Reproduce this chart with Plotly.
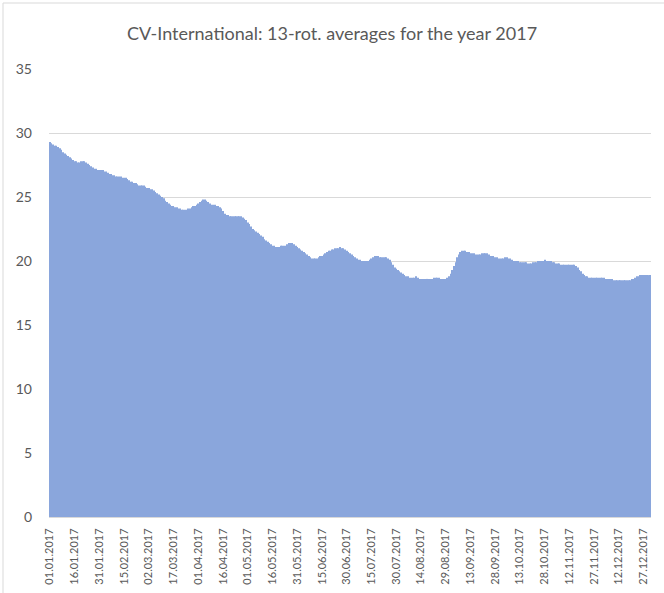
import pandas as pd
import plotly.graph_objects as go

# daily 13-rotation averages, 01.01.2017 - 31.12.2017 (15 days per row)
averages = [
    29.3, 29.2, 29.1, 29.0, 29.0, 28.9, 28.8, 28.7, 28.5, 28.4, 28.3, 28.2, 28.1, 28.0, 27.9,
    27.8, 27.8, 27.7, 27.7, 27.8, 27.8, 27.8, 27.7, 27.6, 27.5, 27.4, 27.3, 27.2, 27.2, 27.1,
    27.1, 27.1, 27.1, 27.0, 27.0, 26.9, 26.8, 26.8, 26.7, 26.7, 26.6, 26.6, 26.6, 26.6, 26.5,
    26.5, 26.5, 26.4, 26.3, 26.2, 26.2, 26.1, 26.1, 26.0, 25.9, 25.9, 25.9, 25.9, 25.8, 25.7,
    25.7, 25.6, 25.6, 25.5, 25.4, 25.3, 25.2, 25.1, 25.0, 24.9, 24.7, 24.6, 24.5, 24.4, 24.3,
    24.3, 24.2, 24.2, 24.1, 24.1, 24.0, 24.0, 24.0, 24.0, 24.1, 24.1, 24.2, 24.3, 24.3, 24.4,
    24.5, 24.6, 24.7, 24.8, 24.8, 24.7, 24.6, 24.5, 24.4, 24.4, 24.4, 24.3, 24.3, 24.2, 24.1,
    23.9, 23.7, 23.6, 23.6, 23.5, 23.5, 23.5, 23.5, 23.5, 23.5, 23.5, 23.5, 23.4, 23.3, 23.2,
    23.0, 22.9, 22.7, 22.5, 22.4, 22.3, 22.2, 22.1, 22.0, 21.9, 21.7, 21.6, 21.5, 21.4, 21.3,
    21.2, 21.2, 21.1, 21.1, 21.1, 21.2, 21.2, 21.2, 21.2, 21.3, 21.4, 21.4, 21.4, 21.3, 21.2,
    21.1, 21.0, 20.9, 20.8, 20.7, 20.6, 20.5, 20.4, 20.3, 20.2, 20.2, 20.2, 20.2, 20.3, 20.4,
    20.4, 20.5, 20.6, 20.7, 20.8, 20.8, 20.9, 20.9, 21.0, 21.0, 21.0, 21.1, 21.0, 21.0, 20.9,
    20.8, 20.7, 20.6, 20.5, 20.4, 20.3, 20.2, 20.1, 20.1, 20.0, 20.0, 20.0, 20.0, 20.0, 20.1,
    20.2, 20.3, 20.4, 20.4, 20.4, 20.3, 20.3, 20.3, 20.3, 20.3, 20.2, 20.1, 19.9, 19.7, 19.5,
    19.4, 19.3, 19.2, 19.1, 19.0, 18.9, 18.8, 18.8, 18.7, 18.7, 18.7, 18.7, 18.8, 18.7, 18.6,
    18.6, 18.6, 18.6, 18.6, 18.6, 18.6, 18.6, 18.6, 18.7, 18.7, 18.7, 18.7, 18.6, 18.6, 18.6,
    18.6, 18.7, 18.8, 19.0, 19.3, 19.6, 19.9, 20.3, 20.5, 20.7, 20.8, 20.8, 20.8, 20.7, 20.7,
    20.6, 20.6, 20.6, 20.5, 20.5, 20.5, 20.5, 20.6, 20.6, 20.6, 20.6, 20.5, 20.4, 20.4, 20.4,
    20.3, 20.3, 20.2, 20.2, 20.2, 20.2, 20.3, 20.3, 20.2, 20.2, 20.1, 20.0, 20.0, 20.0, 20.0,
    19.9, 19.9, 19.9, 19.9, 19.9, 19.8, 19.8, 19.8, 19.9, 19.9, 19.9, 20.0, 20.0, 20.0, 20.0,
    20.1, 20.0, 20.0, 20.0, 20.0, 19.9, 19.9, 19.8, 19.8, 19.8, 19.7, 19.7, 19.7, 19.7, 19.7,
    19.7, 19.7, 19.7, 19.7, 19.6, 19.5, 19.3, 19.2, 19.0, 18.9, 18.8, 18.8, 18.7, 18.7, 18.7,
    18.7, 18.7, 18.7, 18.7, 18.7, 18.7, 18.7, 18.6, 18.6, 18.6, 18.6, 18.6, 18.5, 18.5, 18.5,
    18.5, 18.5, 18.5, 18.5, 18.5, 18.5, 18.5, 18.5, 18.6, 18.6, 18.7, 18.8, 18.8, 18.9, 18.9,
    18.9, 18.9, 18.9, 18.9, 18.9,
]

days = [d.strftime('%d.%m.%Y') for d in pd.date_range('2017-01-01', '2017-12-31')]
tick_days = days[::15]
y_ticks = [0, 5, 10, 15, 20, 25, 30, 35]

grey_text = '#595959'
grid = '#d9d9d9'

fig = go.Figure(go.Bar(
    x=days,
    y=averages,
    marker=dict(color='#8aa6dc', line=dict(width=0)),
))

fig.update_layout(
    width=664,
    height=593,
    margin=dict(l=49, r=13, t=69, b=76),
    paper_bgcolor='white',
    plot_bgcolor='white',
    bargap=0.35,
    showlegend=False,
    font=dict(family='Lato, Carlito, Calibri, sans-serif', color=grey_text),
    title=dict(
        text='CV-International: 13-rot. averages for the year 2017',
        x=0.5, xanchor='center', y=0.944, yanchor='middle',
        font=dict(size=18, color=grey_text),
    ),
    # chart-area border (left/top visible, right/bottom run off the page)
    shapes=[dict(
        type='rect', xref='paper', yref='paper',
        x0=-46 / 602, x1=1 + 20 / 602, y0=-85 / 448, y1=1 + 66 / 448,
        line=dict(color=grid, width=1), fillcolor='rgba(0,0,0,0)', layer='above',
    )],
)

fig.update_xaxes(
    type='category',
    tickmode='array',
    tickvals=tick_days,
    ticktext=tick_days,
    tickangle=-90,
    tickfont=dict(size=11, color=grey_text),
    showgrid=False,
    showline=True,
    linecolor=grid,
    ticks='',
    ticklabelstandoff=6,
    automargin=False,
)

fig.update_yaxes(
    range=[0, 35],
    tickmode='array',
    tickvals=y_ticks,
    tickfont=dict(size=14, color=grey_text),
    showgrid=True,
    gridcolor=grid,
    zeroline=False,
    showline=False,
    ticks='',
    ticklabelstandoff=16,
    automargin=False,
)

fig.write_html('out.html', config={'displayModeBar': False},
               post_script="document.body.style.margin='0';")
